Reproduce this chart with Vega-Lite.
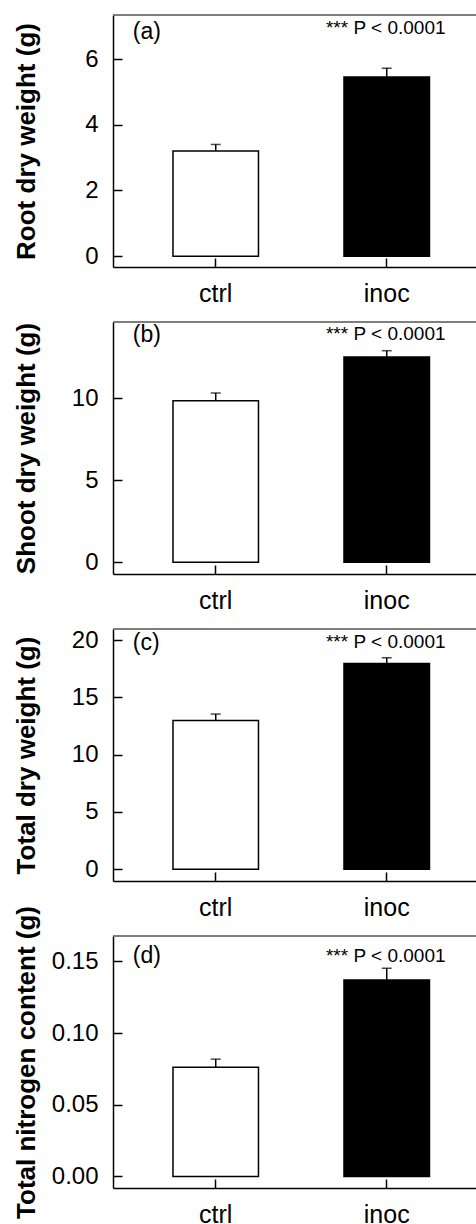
{
  "$schema": "https://vega.github.io/schema/vega-lite/v6.json",
  "padding": {"left": 12, "top": 14, "right": 0, "bottom": 0},
  "background": "white",
  "datasets": {
    "bars": [
      {"panel": "a", "group": "ctrl", "mean": 3.2, "upper": 3.4},
      {"panel": "a", "group": "inoc", "mean": 5.45, "upper": 5.72},
      {"panel": "b", "group": "ctrl", "mean": 9.86, "upper": 10.33},
      {"panel": "b", "group": "inoc", "mean": 12.52, "upper": 12.91},
      {"panel": "c", "group": "ctrl", "mean": 12.99, "upper": 13.54},
      {"panel": "c", "group": "inoc", "mean": 17.96, "upper": 18.45},
      {"panel": "d", "group": "ctrl", "mean": 0.0762, "upper": 0.0818},
      {"panel": "d", "group": "inoc", "mean": 0.137, "upper": 0.1452}
    ],
    "notes": [
      {"panel": "a", "letter": "(a)", "p": "*** P < 0.0001"},
      {"panel": "b", "letter": "(b)", "p": "*** P < 0.0001"},
      {"panel": "c", "letter": "(c)", "p": "*** P < 0.0001"},
      {"panel": "d", "letter": "(d)", "p": "*** P < 0.0001"}
    ]
  },
  "vconcat": [
    {
      "width": 364, "height": 252,
      "transform": [{"filter": "datum.panel === 'a'"}],
      "data": {"name": "bars"},
      "encoding": {
        "x": {"field": "group", "type": "nominal", "sort": ["ctrl", "inoc"],
              "scale": {"paddingInner": 0.5, "paddingOuter": 0.3143, "align": 0.558},
              "axis": {"title": null}},
        "y": {"type": "quantitative", "scale": {"domain": [-0.33, 7.34], "nice": false, "zero": false},
              "axis": {"title": "Root dry weight (g)", "values": [0, 2, 4, 6], "format": "d"}}
      },
      "layer": [
        {"mark": {"type": "rule", "color": "#555", "strokeWidth": 1}, "encoding": {"x": null, "y": {"datum": 7.34, "type": "quantitative"}}},
        {"mark": {"type": "rule", "color": "black", "strokeWidth": 1.5}, "encoding": {"y": {"field": "mean"}, "y2": {"field": "upper"}}},
        {"mark": {"type": "tick", "color": "black", "thickness": 1.5, "size": 10}, "encoding": {"y": {"field": "upper"}}},
        {"mark": {"type": "bar", "stroke": "black", "strokeWidth": 1.5},
         "encoding": {"y": {"field": "mean"}, "y2": {"datum": 0},
                      "fill": {"field": "group", "type": "nominal", "scale": {"domain": ["ctrl", "inoc"], "range": ["white", "black"]}, "legend": null}}},
        {"data": {"name": "notes"}, "transform": [{"filter": "datum.panel === 'a'"}],
         "mark": {"type": "text", "align": "left", "baseline": "alphabetic", "fontSize": 23, "dx": -83},
         "encoding": {"text": {"field": "letter"}, "x": {"datum": "ctrl"}, "y": {"datum": 6.62}}},
        {"data": {"name": "notes"}, "transform": [{"filter": "datum.panel === 'a'"}],
         "mark": {"type": "text", "align": "center", "baseline": "alphabetic", "fontSize": 19, "dx": -1},
         "encoding": {"text": {"field": "p"}, "x": {"datum": "inoc"}, "y": {"datum": 6.77}}}
      ]
    },
    {
      "width": 364, "height": 252,
      "transform": [{"filter": "datum.panel === 'b'"}],
      "data": {"name": "bars"},
      "encoding": {
        "x": {"field": "group", "type": "nominal", "sort": ["ctrl", "inoc"],
              "scale": {"paddingInner": 0.5, "paddingOuter": 0.3143, "align": 0.558},
              "axis": {"title": null}},
        "y": {"type": "quantitative", "scale": {"domain": [-0.71, 14.66], "nice": false, "zero": false},
              "axis": {"title": "Shoot dry weight (g)", "values": [0, 5, 10], "format": "d"}}
      },
      "layer": [
        {"mark": {"type": "rule", "color": "#555", "strokeWidth": 1}, "encoding": {"x": null, "y": {"datum": 14.66, "type": "quantitative"}}},
        {"mark": {"type": "rule", "color": "black", "strokeWidth": 1.5}, "encoding": {"y": {"field": "mean"}, "y2": {"field": "upper"}}},
        {"mark": {"type": "tick", "color": "black", "thickness": 1.5, "size": 10}, "encoding": {"y": {"field": "upper"}}},
        {"mark": {"type": "bar", "stroke": "black", "strokeWidth": 1.5},
         "encoding": {"y": {"field": "mean"}, "y2": {"datum": 0},
                      "fill": {"field": "group", "type": "nominal", "scale": {"domain": ["ctrl", "inoc"], "range": ["white", "black"]}, "legend": null}}},
        {"data": {"name": "notes"}, "transform": [{"filter": "datum.panel === 'b'"}],
         "mark": {"type": "text", "align": "left", "baseline": "alphabetic", "fontSize": 23, "dx": -83},
         "encoding": {"text": {"field": "letter"}, "x": {"datum": "ctrl"}, "y": {"datum": 13.41}}},
        {"data": {"name": "notes"}, "transform": [{"filter": "datum.panel === 'b'"}],
         "mark": {"type": "text", "align": "center", "baseline": "alphabetic", "fontSize": 19, "dx": -1},
         "encoding": {"text": {"field": "p"}, "x": {"datum": "inoc"}, "y": {"datum": 13.58}}}
      ]
    },
    {
      "width": 364, "height": 252,
      "transform": [{"filter": "datum.panel === 'c'"}],
      "data": {"name": "bars"},
      "encoding": {
        "x": {"field": "group", "type": "nominal", "sort": ["ctrl", "inoc"],
              "scale": {"paddingInner": 0.5, "paddingOuter": 0.3143, "align": 0.558},
              "axis": {"title": null}},
        "y": {"type": "quantitative", "scale": {"domain": [-1.02, 20.96], "nice": false, "zero": false},
              "axis": {"title": "Total dry weight (g)", "values": [0, 5, 10, 15, 20], "format": "d"}}
      },
      "layer": [
        {"mark": {"type": "rule", "color": "#555", "strokeWidth": 1}, "encoding": {"x": null, "y": {"datum": 20.96, "type": "quantitative"}}},
        {"mark": {"type": "rule", "color": "black", "strokeWidth": 1.5}, "encoding": {"y": {"field": "mean"}, "y2": {"field": "upper"}}},
        {"mark": {"type": "tick", "color": "black", "thickness": 1.5, "size": 10}, "encoding": {"y": {"field": "upper"}}},
        {"mark": {"type": "bar", "stroke": "black", "strokeWidth": 1.5},
         "encoding": {"y": {"field": "mean"}, "y2": {"datum": 0},
                      "fill": {"field": "group", "type": "nominal", "scale": {"domain": ["ctrl", "inoc"], "range": ["white", "black"]}, "legend": null}}},
        {"data": {"name": "notes"}, "transform": [{"filter": "datum.panel === 'c'"}],
         "mark": {"type": "text", "align": "left", "baseline": "alphabetic", "fontSize": 23, "dx": -83},
         "encoding": {"text": {"field": "letter"}, "x": {"datum": "ctrl"}, "y": {"datum": 19.12}}},
        {"data": {"name": "notes"}, "transform": [{"filter": "datum.panel === 'c'"}],
         "mark": {"type": "text", "align": "center", "baseline": "alphabetic", "fontSize": 19, "dx": -1},
         "encoding": {"text": {"field": "p"}, "x": {"datum": "inoc"}, "y": {"datum": 19.27}}}
      ]
    },
    {
      "width": 364, "height": 252,
      "transform": [{"filter": "datum.panel === 'd'"}],
      "data": {"name": "bars"},
      "encoding": {
        "x": {"field": "group", "type": "nominal", "sort": ["ctrl", "inoc"],
              "scale": {"paddingInner": 0.5, "paddingOuter": 0.3143, "align": 0.558},
              "axis": {"title": null}},
        "y": {"type": "quantitative", "scale": {"domain": [-0.0081, 0.1677], "nice": false, "zero": false},
              "axis": {"title": "Total nitrogen content (g)", "values": [0, 0.05, 0.1, 0.15], "format": ".2f"}}
      },
      "layer": [
        {"mark": {"type": "rule", "color": "#555", "strokeWidth": 1}, "encoding": {"x": null, "y": {"datum": 0.1677, "type": "quantitative"}}},
        {"mark": {"type": "rule", "color": "black", "strokeWidth": 1.5}, "encoding": {"y": {"field": "mean"}, "y2": {"field": "upper"}}},
        {"mark": {"type": "tick", "color": "black", "thickness": 1.5, "size": 10}, "encoding": {"y": {"field": "upper"}}},
        {"mark": {"type": "bar", "stroke": "black", "strokeWidth": 1.5},
         "encoding": {"y": {"field": "mean"}, "y2": {"datum": 0},
                      "fill": {"field": "group", "type": "nominal", "scale": {"domain": ["ctrl", "inoc"], "range": ["white", "black"]}, "legend": null}}},
        {"data": {"name": "notes"}, "transform": [{"filter": "datum.panel === 'd'"}],
         "mark": {"type": "text", "align": "left", "baseline": "alphabetic", "fontSize": 23, "dx": -83},
         "encoding": {"text": {"field": "letter"}, "x": {"datum": "ctrl"}, "y": {"datum": 0.1487}}},
        {"data": {"name": "notes"}, "transform": [{"filter": "datum.panel === 'd'"}],
         "mark": {"type": "text", "align": "center", "baseline": "alphabetic", "fontSize": 19, "dx": -1},
         "encoding": {"text": {"field": "p"}, "x": {"datum": "inoc"}, "y": {"datum": 0.1493}}}
      ]
    }
  ],
  "spacing": 55,
  "bounds": "flush",
  "config": {
    "font": "Liberation Sans",
    "view": {"stroke": null},
    "text": {"font": "Liberation Sans", "color": "black"},
    "axis": {
      "grid": false,
      "domainColor": "black", "domainWidth": 1.5,
      "tickColor": "black", "tickWidth": 1.5, "tickSize": -9,
      "labelFont": "Liberation Sans", "labelColor": "black",
      "titleFont": "Liberation Sans", "titleColor": "black"
    },
    "axisX": {"labelAngle": 0, "labelFontSize": 25, "labelPadding": 43, "labelBaseline": "alphabetic"},
    "axisY": {"labelFontSize": 24, "labelPadding": 24,
              "titleFontSize": 26, "titleFontWeight": "bold", "titleX": -79, "titleBaseline": "alphabetic", "titleAngle": 270}
  }
}
